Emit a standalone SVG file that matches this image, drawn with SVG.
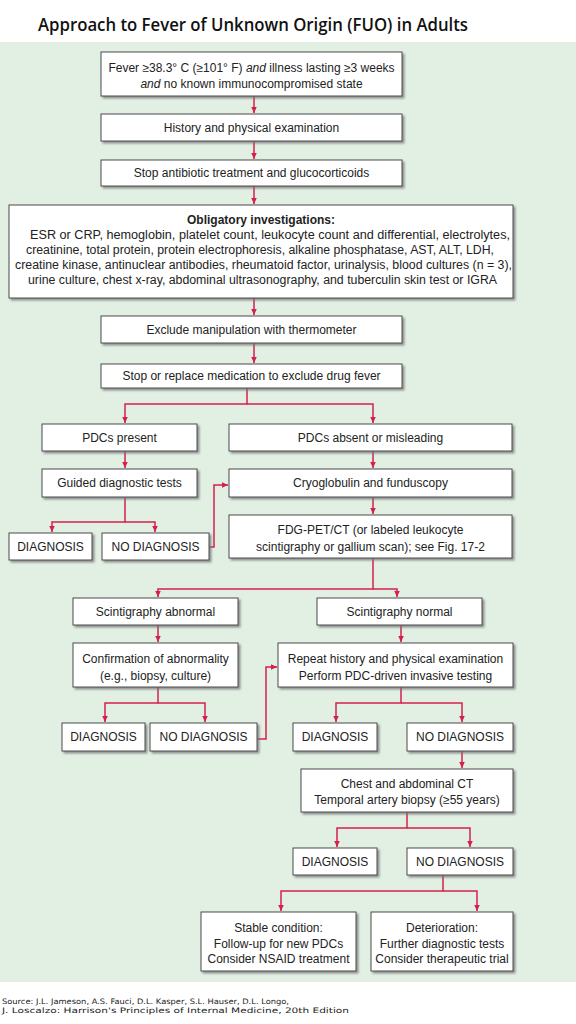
<svg xmlns="http://www.w3.org/2000/svg" width="576" height="1024" viewBox="0 0 576 1024">
<style>
.bx{fill:#fff;stroke:#4a4a4a;stroke-width:1}
.t{font-family:"Liberation Sans",Arial,sans-serif;font-size:12px;fill:#222;text-anchor:middle}
.c{fill:none;stroke:#d61f4d;stroke-width:1.5}
.src{font-family:"DejaVu Sans",Verdana,sans-serif;font-size:7.5px;fill:#222}
</style>
<defs>
<filter id="sh" x="-10%" y="-10%" width="130%" height="150%">
<feDropShadow dx="2" dy="2" stdDeviation="0.8" flood-color="#777" flood-opacity="0.8"/>
</filter>
<marker id="ah" markerUnits="userSpaceOnUse" markerWidth="8" markerHeight="8" refX="6.5" refY="3" orient="auto">
<path d="M0,0 L6.5,3 L0,6 z" fill="#d61f4d"/>
</marker>
</defs>
<rect x="0" y="0" width="576" height="1024" fill="#fff"/>
<rect x="0" y="42" width="576" height="940" fill="#e2f0e4"/>
<text x="253" y="31" font-family="'Open Sans',sans-serif" font-size="18" font-weight="600" fill="#111" text-anchor="middle" textLength="430" lengthAdjust="spacingAndGlyphs">Approach to Fever of Unknown Origin (FUO) in Adults</text>

<g id="connectors">
<path class="c" d="M254,96 V113" marker-end="url(#ah)"/>
<path class="c" d="M254,141 V159" marker-end="url(#ah)"/>
<path class="c" d="M254,186 V204" marker-end="url(#ah)"/>
<path class="c" d="M254,298 V315" marker-end="url(#ah)"/>
<path class="c" d="M254,343 V363" marker-end="url(#ah)"/>
<path class="c" d="M247,388 V404 H125 V423" marker-end="url(#ah)"/>
<path class="c" d="M247,404 H373 V423" marker-end="url(#ah)"/>
<path class="c" d="M125,451 V468" marker-end="url(#ah)"/>
<path class="c" d="M373,451 V468" marker-end="url(#ah)"/>
<path class="c" d="M125,497 V522 H52 V532" marker-end="url(#ah)"/>
<path class="c" d="M125,522 H155 V532" marker-end="url(#ah)"/>
<path class="c" d="M209,547 H214 V485 H228" marker-end="url(#ah)"/>
<path class="c" d="M373,497 V514" marker-end="url(#ah)"/>
<path class="c" d="M373,558 V589 H158 V597" marker-end="url(#ah)"/>
<path class="c" d="M373,589 H397 V597" marker-end="url(#ah)"/>
<path class="c" d="M158,625 V642" marker-end="url(#ah)"/>
<path class="c" d="M401,625 V642" marker-end="url(#ah)"/>
<path class="c" d="M158,687 V703 H105 V722" marker-end="url(#ah)"/>
<path class="c" d="M158,703 H205 V722" marker-end="url(#ah)"/>
<path class="c" d="M257,739 H266 V667 H277" marker-end="url(#ah)"/>
<path class="c" d="M401,687 V703 H336 V722" marker-end="url(#ah)"/>
<path class="c" d="M401,703 H462 V722" marker-end="url(#ah)"/>
<path class="c" d="M462,751 V768" marker-end="url(#ah)"/>
<path class="c" d="M407,812 V828 H337 V847" marker-end="url(#ah)"/>
<path class="c" d="M407,828 H470 V847" marker-end="url(#ah)"/>
<path class="c" d="M443,875 V891 H281 V911" marker-end="url(#ah)"/>
<path class="c" d="M443,891 H477 V911" marker-end="url(#ah)"/>
</g>

<g id="n-fever"><rect class="bx" filter="url(#sh)" x="101" y="52" width="301" height="44"/>
<text class="t" x="251.5" y="72">Fever ≥38.3° C (≥101° F) <tspan font-style="italic">and</tspan> illness lasting ≥3 weeks</text>
<text class="t" x="251.5" y="88"><tspan font-style="italic">and</tspan> no known immunocompromised state</text></g>
<g id="n-history"><rect class="bx" filter="url(#sh)" x="101" y="114" width="301" height="27"/>
<text class="t" x="251.5" y="132">History and physical examination</text></g>
<g id="n-stopab"><rect class="bx" filter="url(#sh)" x="101" y="160" width="301" height="26"/>
<text class="t" x="251.5" y="177">Stop antibiotic treatment and glucocorticoids</text></g>
<g id="n-oblig"><rect class="bx" filter="url(#sh)" x="9" y="205" width="504" height="93"/>
<text class="t" x="261" y="224" font-weight="bold">Obligatory investigations:</text>
<text class="t" x="270" y="239" textLength="480" lengthAdjust="spacingAndGlyphs">ESR or CRP, hemoglobin, platelet count, leukocyte count and differential, electrolytes,</text>
<text class="t" x="260" y="254" textLength="468" lengthAdjust="spacingAndGlyphs">creatinine, total protein, protein electrophoresis, alkaline phosphatase, AST, ALT, LDH,</text>
<text class="t" x="263.5" y="269" textLength="497" lengthAdjust="spacingAndGlyphs">creatine kinase, antinuclear antibodies, rheumatoid factor, urinalysis, blood cultures (n = 3),</text>
<text class="t" x="262.5" y="284" textLength="469" lengthAdjust="spacingAndGlyphs">urine culture, chest x-ray, abdominal ultrasonography, and tuberculin skin test or IGRA</text></g>
<g id="n-thermo"><rect class="bx" filter="url(#sh)" x="101" y="316" width="301" height="27"/>
<text class="t" x="251.5" y="334">Exclude manipulation with thermometer</text></g>
<g id="n-drug"><rect class="bx" filter="url(#sh)" x="101" y="364" width="301" height="24"/>
<text class="t" x="251.5" y="380">Stop or replace medication to exclude drug fever</text></g>
<g id="n-pdcp"><rect class="bx" filter="url(#sh)" x="42" y="424" width="155" height="27"/>
<text class="t" x="119.5" y="442">PDCs present</text></g>
<g id="n-pdca"><rect class="bx" filter="url(#sh)" x="229" y="424" width="283" height="27"/>
<text class="t" x="370.5" y="442">PDCs absent or misleading</text></g>
<g id="n-guided"><rect class="bx" filter="url(#sh)" x="42" y="469" width="155" height="28"/>
<text class="t" x="119.5" y="487">Guided diagnostic tests</text></g>
<g id="n-cryo"><rect class="bx" filter="url(#sh)" x="229" y="469" width="283" height="28"/>
<text class="t" x="370.5" y="487">Cryoglobulin and funduscopy</text></g>
<g id="n-diag1"><rect class="bx" filter="url(#sh)" x="9" y="533" width="83" height="27"/>
<text class="t" x="50.5" y="551">DIAGNOSIS</text></g>
<g id="n-nodiag1"><rect class="bx" filter="url(#sh)" x="102" y="533" width="107" height="27"/>
<text class="t" x="155.5" y="551">NO DIAGNOSIS</text></g>
<g id="n-fdg"><rect class="bx" filter="url(#sh)" x="229" y="515" width="283" height="43"/>
<text class="t" x="370.5" y="534">FDG-PET/CT (or labeled leukocyte</text>
<text class="t" x="370.5" y="551">scintigraphy or gallium scan); see Fig. 17-2</text></g>
<g id="n-sabn"><rect class="bx" filter="url(#sh)" x="73" y="598" width="165" height="27"/>
<text class="t" x="155.5" y="616">Scintigraphy abnormal</text></g>
<g id="n-snorm"><rect class="bx" filter="url(#sh)" x="317" y="598" width="165" height="27"/>
<text class="t" x="399.5" y="616">Scintigraphy normal</text></g>
<g id="n-confirm"><rect class="bx" filter="url(#sh)" x="73" y="643" width="165" height="44"/>
<text class="t" x="155.5" y="663">Confirmation of abnormality</text>
<text class="t" x="155.5" y="680">(e.g., biopsy, culture)</text></g>
<g id="n-repeat"><rect class="bx" filter="url(#sh)" x="278" y="643" width="235" height="44"/>
<text class="t" x="395.5" y="663">Repeat history and physical examination</text>
<text class="t" x="395.5" y="680">Perform PDC-driven invasive testing</text></g>
<g id="n-diag2"><rect class="bx" filter="url(#sh)" x="62" y="723" width="83" height="28"/>
<text class="t" x="103.5" y="741">DIAGNOSIS</text></g>
<g id="n-nodiag2"><rect class="bx" filter="url(#sh)" x="150" y="723" width="107" height="28"/>
<text class="t" x="203.5" y="741">NO DIAGNOSIS</text></g>
<g id="n-diag3"><rect class="bx" filter="url(#sh)" x="293" y="723" width="84" height="28"/>
<text class="t" x="335" y="741">DIAGNOSIS</text></g>
<g id="n-nodiag3"><rect class="bx" filter="url(#sh)" x="407" y="723" width="106" height="28"/>
<text class="t" x="460" y="741">NO DIAGNOSIS</text></g>
<g id="n-chest"><rect class="bx" filter="url(#sh)" x="301" y="769" width="212" height="43"/>
<text class="t" x="407" y="788">Chest and abdominal CT</text>
<text class="t" x="407" y="804">Temporal artery biopsy (≥55 years)</text></g>
<g id="n-diag4"><rect class="bx" filter="url(#sh)" x="293" y="848" width="84" height="27"/>
<text class="t" x="335" y="866">DIAGNOSIS</text></g>
<g id="n-nodiag4"><rect class="bx" filter="url(#sh)" x="407" y="848" width="106" height="27"/>
<text class="t" x="460" y="866">NO DIAGNOSIS</text></g>
<g id="n-stable"><rect class="bx" filter="url(#sh)" x="201" y="912" width="155" height="59"/>
<text class="t" x="278.5" y="932">Stable condition:</text>
<text class="t" x="278.5" y="948">Follow-up for new PDCs</text>
<text class="t" x="278.5" y="963">Consider NSAID treatment</text></g>
<g id="n-deter"><rect class="bx" filter="url(#sh)" x="371" y="912" width="142" height="59"/>
<text class="t" x="442" y="932">Deterioration:</text>
<text class="t" x="442" y="948">Further diagnostic tests</text>
<text class="t" x="442" y="963">Consider therapeutic trial</text></g>

<text class="src" x="2" y="1004" textLength="287" lengthAdjust="spacingAndGlyphs">Source: J.L. Jameson, A.S. Fauci, D.L. Kasper, S.L. Hauser, D.L. Longo,</text>
<text class="src" x="2" y="1013" textLength="347" lengthAdjust="spacingAndGlyphs">J. Loscalzo: Harrison's Principles of Internal Medicine, 20th Edition</text>
</svg>
